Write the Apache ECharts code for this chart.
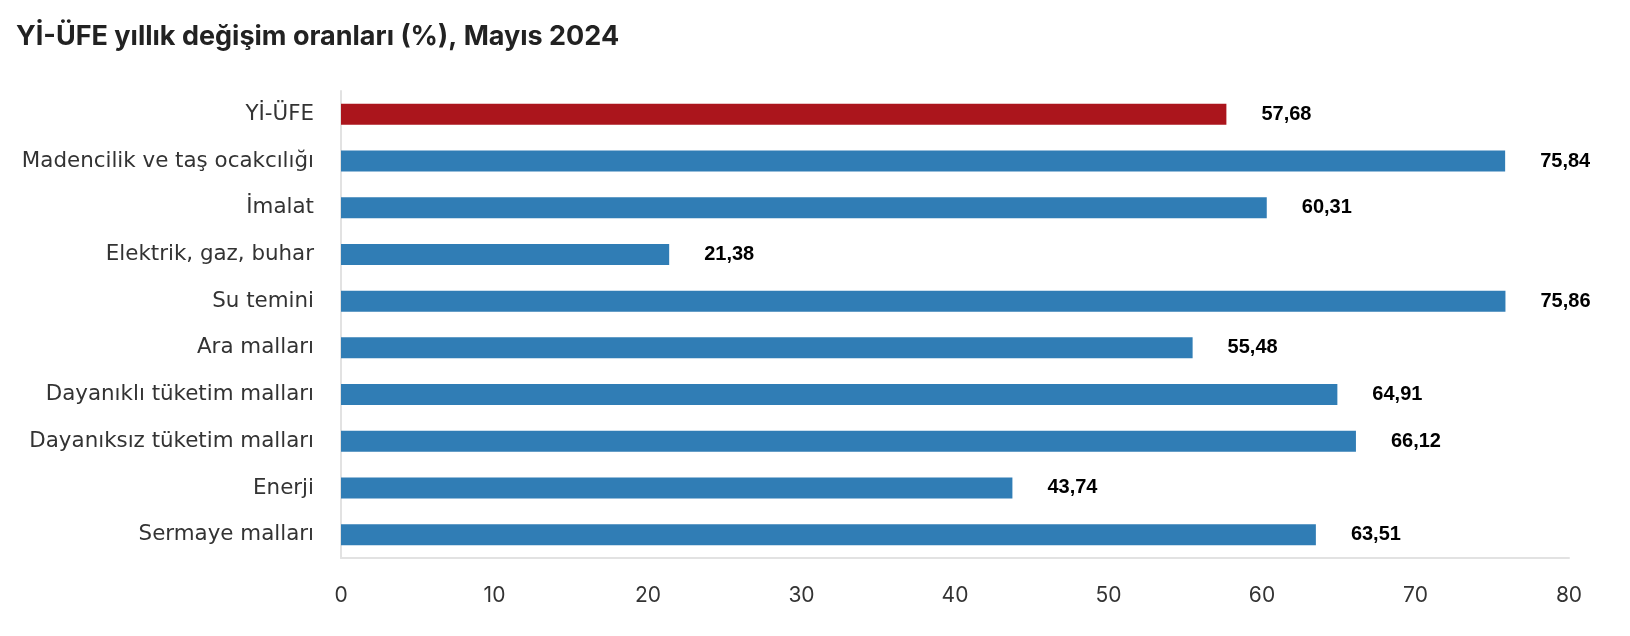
<!DOCTYPE html>
<html>
<head>
<meta charset="utf-8">
<script src="https://cdn.jsdelivr.net/npm/echarts@6/dist/echarts.min.js"></script>
<style>
html,body{margin:0;padding:0;background:#fff;overflow:hidden;}
#chart{width:1590px;height:636px;}
</style>
</head>
<body>
<div id="chart"></div>
<script>
const categories = ["Yİ-ÜFE","Madencilik ve taş ocakcılığı","İmalat","Elektrik, gaz, buhar","Su temini","Ara malları","Dayanıklı tüketim malları","Dayanıksız tüketim malları","Enerji","Sermaye malları"];
const values = [57.68,75.84,60.31,21.38,75.86,55.48,64.91,66.12,43.74,63.51];
const titleText = "Yİ-ÜFE yıllık değişim oranları (%), Mayıs 2024";

const chart = echarts.init(document.getElementById('chart'), null, {renderer:'canvas'});
chart.setOption({
  animation:false,
  backgroundColor:'#fff',
  title:{
    text:titleText, left:11, top:18,
    textStyle:{fontFamily:'Inter', fontWeight:'bold', fontSize:27, color:'#222'}
  },
  grid:{left:341, right:21, top:91, bottom:78, containLabel:false},
  xAxis:{
    type:'value', min:0, max:80, interval:10,
    axisLine:{show:true, lineStyle:{color:'#e2e2e2', width:2}},
    axisTick:{show:false},
    splitLine:{show:false},
    axisLabel:{margin:27, fontFamily:'Inter', fontSize:21, color:'#333'}
  },
  yAxis:{
    type:'category', data:categories, inverse:true,
    axisLine:{show:true, lineStyle:{color:'#e2e2e2', width:2}},
    axisTick:{show:false},
    axisLabel:{margin:27, fontFamily:'DejaVu Sans', fontSize:21.4, color:'#333'}
  },
  series:[{
    type:'bar', data:values, barWidth:21,
    itemStyle:{color:function(p){return p.dataIndex===0 ? '#ab151c' : '#307db5';}},
    label:{
      show:true, position:'right', distance:35,
      fontFamily:'Liberation Sans', fontWeight:'bold', fontSize:20, color:'#000',
      formatter:function(p){return p.value.toFixed(2).replace('.',',');}
    }
  }]
});
</script>
</body>
</html>
